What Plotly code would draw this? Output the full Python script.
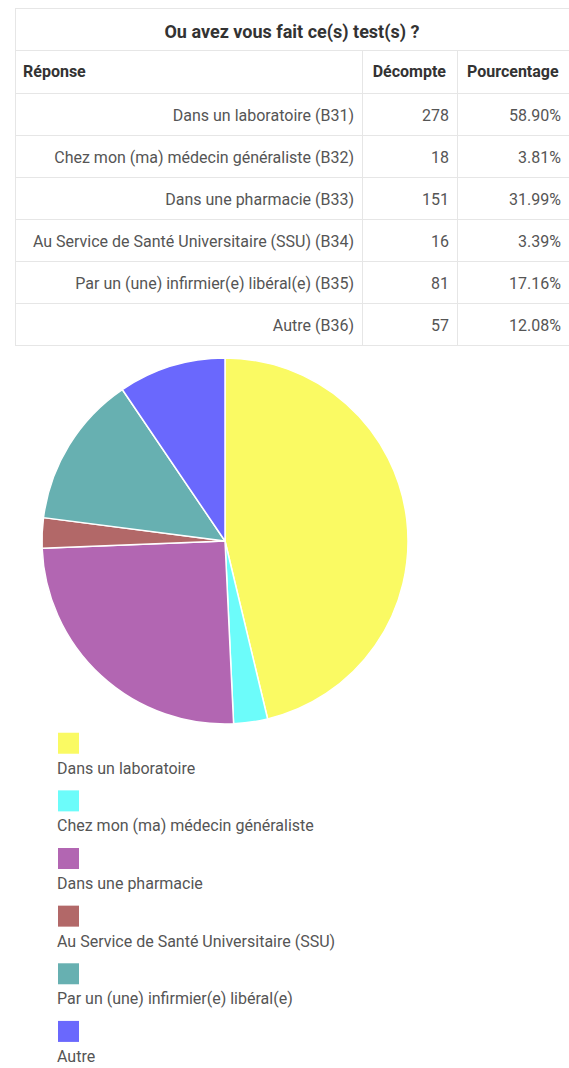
import plotly.graph_objects as go

# ---- data ----
question = "Ou avez vous fait ce(s) test(s) ?"
header_labels = ["Réponse", "Décompte", "Pourcentage"]
reponses = [
    "Dans un laboratoire (B31)",
    "Chez mon (ma) médecin généraliste (B32)",
    "Dans une pharmacie (B33)",
    "Au Service de Santé Universitaire (SSU) (B34)",
    "Par un (une) infirmier(e) libéral(e) (B35)",
    "Autre (B36)",
]
decompte = [278, 18, 151, 16, 81, 57]
pourcentage = ["58.90%", "3.81%", "31.99%", "3.39%", "17.16%", "12.08%"]
legend_labels = [
    "Dans un laboratoire",
    "Chez mon (ma) médecin généraliste",
    "Dans une pharmacie",
    "Au Service de Santé Universitaire (SSU)",
    "Par un (une) infirmier(e) libéral(e)",
    "Autre",
]
colors = ["#FAFA63", "#6CFCFA", "#B266B2", "#B26868", "#67B0B1", "#6A68FD"]

W, H = 569, 1068
FONT = "Roboto"
LINE = "#E6E6E6"
CLEAR = "rgba(0,0,0,0)"


def py(p):
    return 1 - p / H


fig = go.Figure()
n = len(reponses)

# --- grid (cell borders), drawn first ---
fig.add_trace(go.Table(
    domain=dict(x=[15 / W, 1], y=[py(52), py(8)]),
    columnwidth=[554],
    header=dict(values=[""], height=42, fill_color="white",
                line=dict(color=LINE, width=1)),
    cells=dict(values=[[]], line=dict(color=LINE, width=1), fill_color="white"),
    hoverinfo="skip",
))
fig.add_trace(go.Table(
    domain=dict(x=[15 / W, 1], y=[py(350), py(50)]),
    columnwidth=[347, 95, 112],
    header=dict(values=["", "", ""], height=43, fill_color="white",
                line=dict(color=LINE, width=1)),
    cells=dict(values=[[""] * n] * 3, height=42, fill_color="white",
               line=dict(color=LINE, width=1)),
    hoverinfo="skip",
))

# --- text layers (transparent), nudged down to centre text in rows ---
fig.add_trace(go.Table(
    domain=dict(x=[15 / W, 1], y=[py(57), py(13)]),
    columnwidth=[554],
    header=dict(values=["<b>" + question + "</b>"], align="center", height=42,
                fill_color=CLEAR, line=dict(color=CLEAR, width=0),
                font=dict(family=FONT, size=18, color="#333333")),
    cells=dict(values=[[]], line=dict(color=CLEAR, width=0), fill_color=CLEAR),
))
fig.add_trace(go.Table(
    domain=dict(x=[15 / W, 1], y=[py(354), py(54)]),
    columnwidth=[347, 95, 112],
    header=dict(values=["<b>" + h + "</b>" for h in header_labels],
                align=["left", "center", "center"], height=47,
                fill_color=CLEAR, line=dict(color=CLEAR, width=0),
                font=dict(family=FONT, size=16, color="#333333")),
    cells=dict(values=[reponses, decompte, pourcentage],
               align="right", height=42, fill_color=CLEAR,
               line=dict(color=CLEAR, width=0),
               font=dict(family=FONT, size=16, color="#555555")),
))

# pie
fig.add_trace(go.Pie(
    labels=legend_labels, values=decompte, sort=False, direction="clockwise",
    rotation=0, textinfo="none", showlegend=False,
    marker=dict(colors=colors, line=dict(color="white", width=1.5)),
    domain=dict(x=[42 / W, 408 / W], y=[py(724), py(358)]),
    hoverinfo="label+value+percent",
))

# custom legend (swatch above text)
fig.add_trace(go.Scatter(
    x=[0] * len(legend_labels), y=legend_labels, mode="markers",
    marker=dict(symbol="square", size=21, color=colors, line=dict(width=0)),
    showlegend=False, hoverinfo="skip", xaxis="x", yaxis="y",
))
for lab in legend_labels:
    fig.add_annotation(x=0, y=lab, xref="x", yref="y", text=lab,
                       showarrow=False, xanchor="left", yanchor="middle",
                       xshift=-14, yshift=-25,
                       font=dict(family=FONT, size=16, color="#555555"))

fig.update_layout(
    width=W, height=H, margin=dict(l=0, r=0, t=0, b=0),
    paper_bgcolor="white", plot_bgcolor="white",
    xaxis=dict(domain=[0, 1], range=[-68.5 / W, 1 - 68.5 / W], visible=False, fixedrange=True),
    yaxis=dict(domain=[py(1066), py(700)], type="category",
               categoryorder="array", categoryarray=legend_labels,
               range=[5.6, -0.75], visible=False, fixedrange=True),
    font=dict(family=FONT),
)

fig.write_html(
    "out.html",
    config={"displayModeBar": False},
    post_script="document.body.style.margin='0';document.body.style.padding='0';"
                "document.body.style.overflow='hidden';",
)
